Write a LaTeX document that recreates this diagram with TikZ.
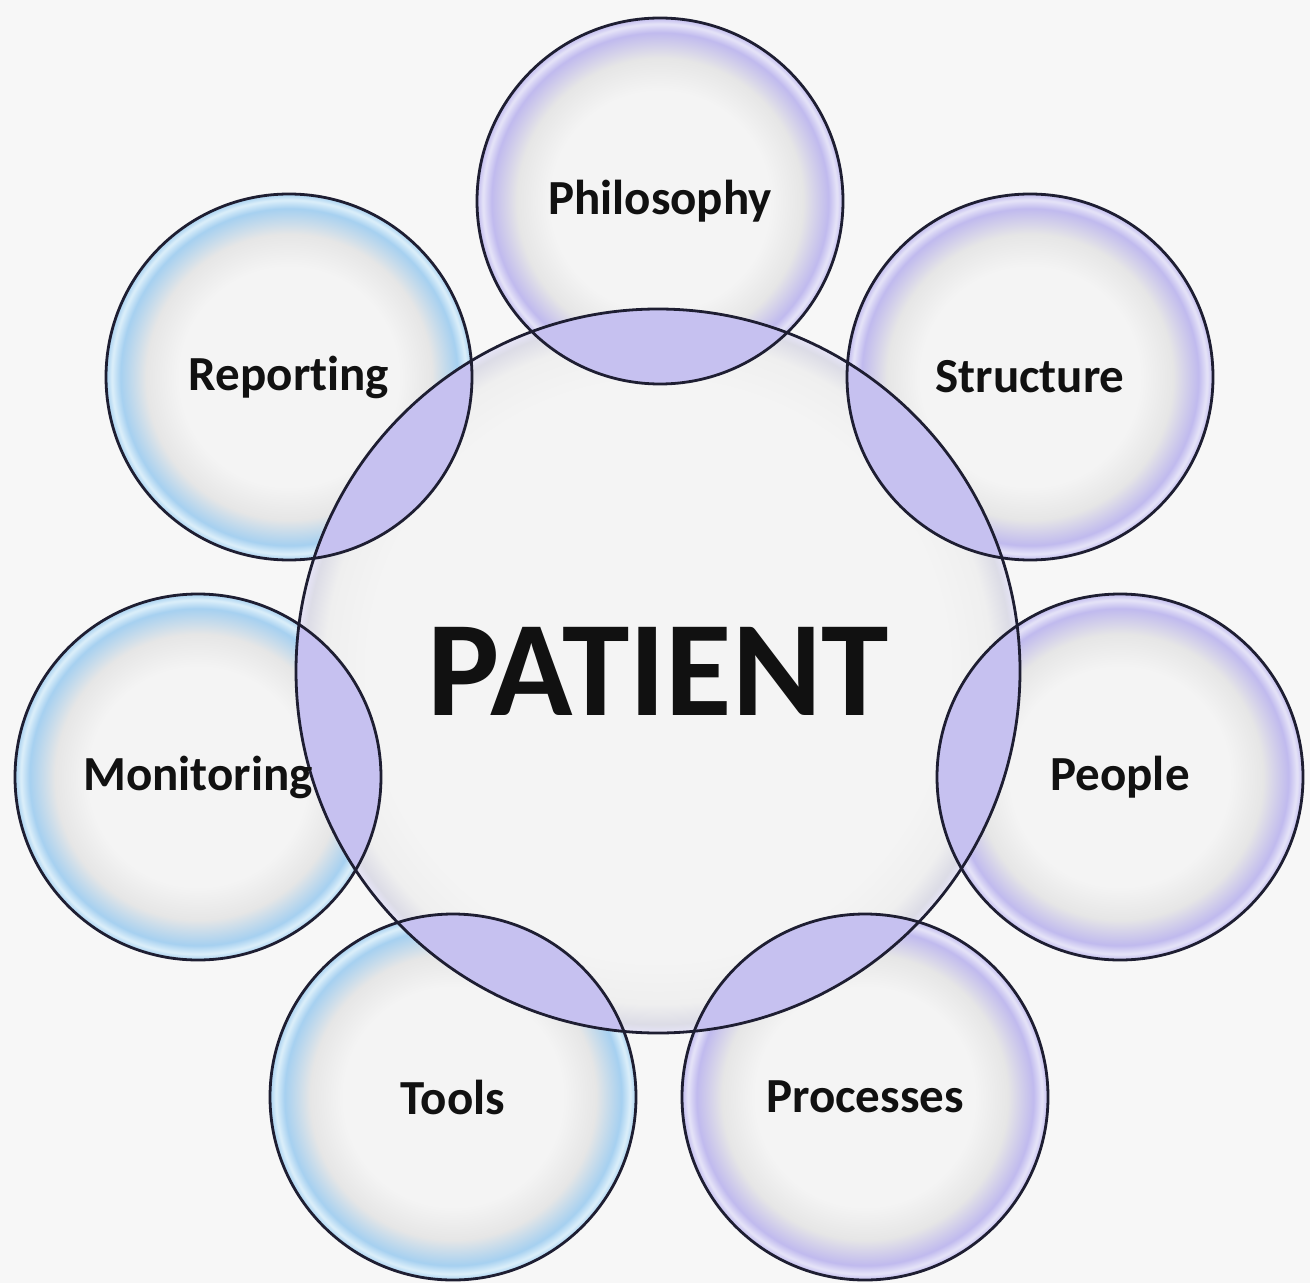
\documentclass[tikz,border=0pt]{standalone}
\usepackage{fontspec}
\setmainfont{Carlito}[Ligatures=NoCommon]
\definecolor{bgc}{HTML}{F7F7F7}
\definecolor{inr}{HTML}{F4F4F4}
\definecolor{midg}{HTML}{E6E6E6}
\definecolor{lav}{HTML}{C0BAEE}
\definecolor{lavlt}{HTML}{E6E4F8}
\definecolor{blu}{HTML}{A6D0F0}
\definecolor{blult}{HTML}{DCEFFA}
\definecolor{cmid}{HTML}{EFEFEF}
\definecolor{crim}{HTML}{DCDCE6}
\definecolor{lensc}{HTML}{C6C1F0}
\definecolor{edge}{HTML}{1E1E32}
\definecolor{txt}{HTML}{111111}
\pgfdeclareradialshading{satlav}{\pgfpoint{0bp}{0bp}}{color(0bp)=(inr); color(15bp)=(inr); color(19.5bp)=(midg); color(23bp)=(lav); color(24.2bp)=(lavlt); color(25bp)=(lav); color(50bp)=(lav)}
\pgfdeclareradialshading{satblu}{\pgfpoint{0bp}{0bp}}{color(0bp)=(inr); color(15bp)=(inr); color(19.5bp)=(midg); color(23bp)=(blu); color(24.2bp)=(blult); color(25bp)=(blu); color(50bp)=(blu)}
\pgfdeclareradialshading{ctr}{\pgfpoint{0bp}{0bp}}{color(0bp)=(inr); color(20bp)=(inr); color(23bp)=(cmid); color(24.4bp)=(crim); color(25bp)=(lavlt); color(50bp)=(lavlt)}
\tikzset{
  sat/.style={circle, draw=edge, line width=1.4pt, minimum size=183pt, inner sep=0pt,
    text=txt, font=\fontsize{24.5}{28}\selectfont\bfseries},
  ctrnode/.style={circle, draw=edge, line width=1.4pt, minimum size=362pt, inner sep=0pt,
    text=txt, font=\fontsize{68}{76}\selectfont\bfseries},
}
\def\rs{91.5pt}
\def\rc{181pt}
\begin{document}
\begin{tikzpicture}[x=0.5pt,y=-0.5pt]
\fill[bgc] (0,0) rectangle (1310,1283);
\useasboundingbox (0,0) rectangle (1310,1283);
\coordinate (cc) at (658,671);
\coordinate (c1) at (660,201);
\coordinate (c2) at (1030,377);
\coordinate (c3) at (1120,777);
\coordinate (c4) at (865,1097);
\coordinate (c5) at (453,1097);
\coordinate (c6) at (198,777);
\coordinate (c7) at (289,377);
% fills
\path[shading=ctr] (cc) circle[radius=\rc];
\foreach \c in {c1,c2,c3,c4}{\path[shading=satlav] (\c) circle[radius=\rs];}
\foreach \c in {c5,c6,c7}{\path[shading=satblu] (\c) circle[radius=\rs];}
% overlaps
\begin{scope}
\clip (cc) circle[radius=\rc];
\foreach \c in {c1,c2,c3,c4,c5,c6,c7}{\fill[lensc] (\c) circle[radius=\rs];}
\end{scope}
% outlines and labels
\node[ctrnode] (patient) at (cc) {PATIENT};
\node[sat] (philosophy) at (c1) {Philosophy};
\node[sat] (structure) at (c2) {Structure};
\node[sat] (people) at (c3) {People};
\node[sat] (processes) at (c4) {Processes};
\node[sat] (tools) at (c5) {Tools};
\node[sat] (monitoring) at (c6) {Monitoring};
\node[sat] (reporting) at (c7) {Reporting};
\end{tikzpicture}
\end{document}
